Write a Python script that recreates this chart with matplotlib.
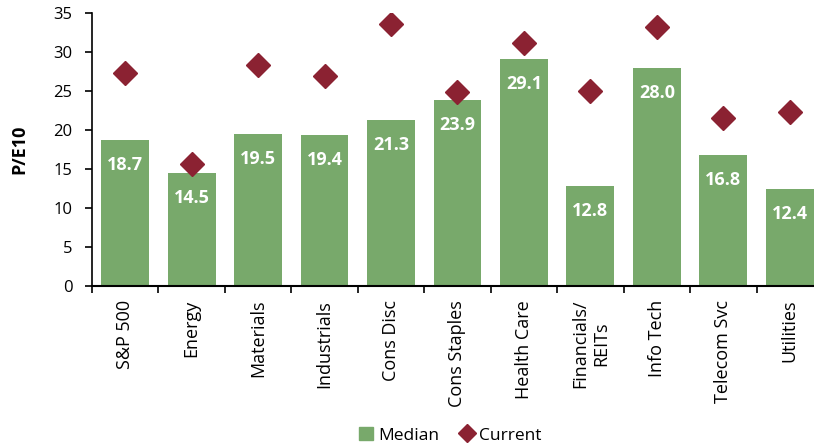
import matplotlib
matplotlib.use('Agg')
import matplotlib.pyplot as plt
import numpy as np
from matplotlib.lines import Line2D
from matplotlib.patches import Patch

sectors = ['S&P 500', 'Energy', 'Materials', 'Industrials', 'Cons Disc', 'Cons Staples',
           'Health Care', 'Financials/\nREITs', 'Info Tech', 'Telecom Svc', 'Utilities']
median = [18.7, 14.5, 19.5, 19.4, 21.3, 23.9, 29.1, 12.8, 28.0, 16.8, 12.4]
current = [27.3, 15.7, 28.3, 26.9, 33.6, 24.9, 31.1, 25.0, 33.2, 21.5, 22.3]

green = '#78A96B'
red = '#8B2232'

plt.rcParams['font.family'] = ['Open Sans', 'DejaVu Sans']

fig = plt.figure(figsize=(8.14, 4.48), dpi=100)
ax = fig.add_axes([0.113, 0.3616, 0.898, 0.6094])

x = np.arange(len(sectors))
ax.bar(x, median, width=0.72, color=green, zorder=2)
ax.plot(x, current, linestyle='none', marker='D', markersize=12.5, color=red, zorder=3)

for xi, v in zip(x, median):
    ax.annotate(f'{v:.1f}', (xi, v), xytext=(0, -18), textcoords='offset points',
                ha='center', va='center', color='white', fontsize=13, fontweight='bold')

ax.set_xlim(-0.5, len(sectors) - 0.5)
ax.set_ylim(0, 35)
ax.set_yticks(range(0, 36, 5))
ax.tick_params(axis='y', labelsize=12, length=5, width=1.2, color='black', pad=9)
ax.set_xticks(x)
ax.set_xticklabels(sectors, rotation=90, fontsize=13, va='top', ha='center', multialignment='center')
ax.tick_params(axis='x', which='major', length=0, pad=10)
ax.set_xticks(np.arange(-0.5, len(sectors), 1), minor=True)
ax.tick_params(axis='x', which='minor', length=5, width=1.2, color='black')

for s in ['top', 'right']:
    ax.spines[s].set_visible(False)
ax.spines['left'].set_linewidth(1.2)
ax.spines['bottom'].set_linewidth(1.5)

ax.set_ylabel('P/E10', fontsize=13, fontweight='bold', labelpad=18)

handles = [Patch(color=green, label='Median'),
           Line2D([], [], linestyle='none', marker='D', markersize=9, color=red, label='Current')]
fig.legend(handles=handles, loc='center', bbox_to_anchor=(0.553, 0.028), ncol=2, frameon=False,
           fontsize=12.5, handlelength=0.8, handletextpad=0.3, columnspacing=1.2)

fig.savefig('out.png', dpi=100)
